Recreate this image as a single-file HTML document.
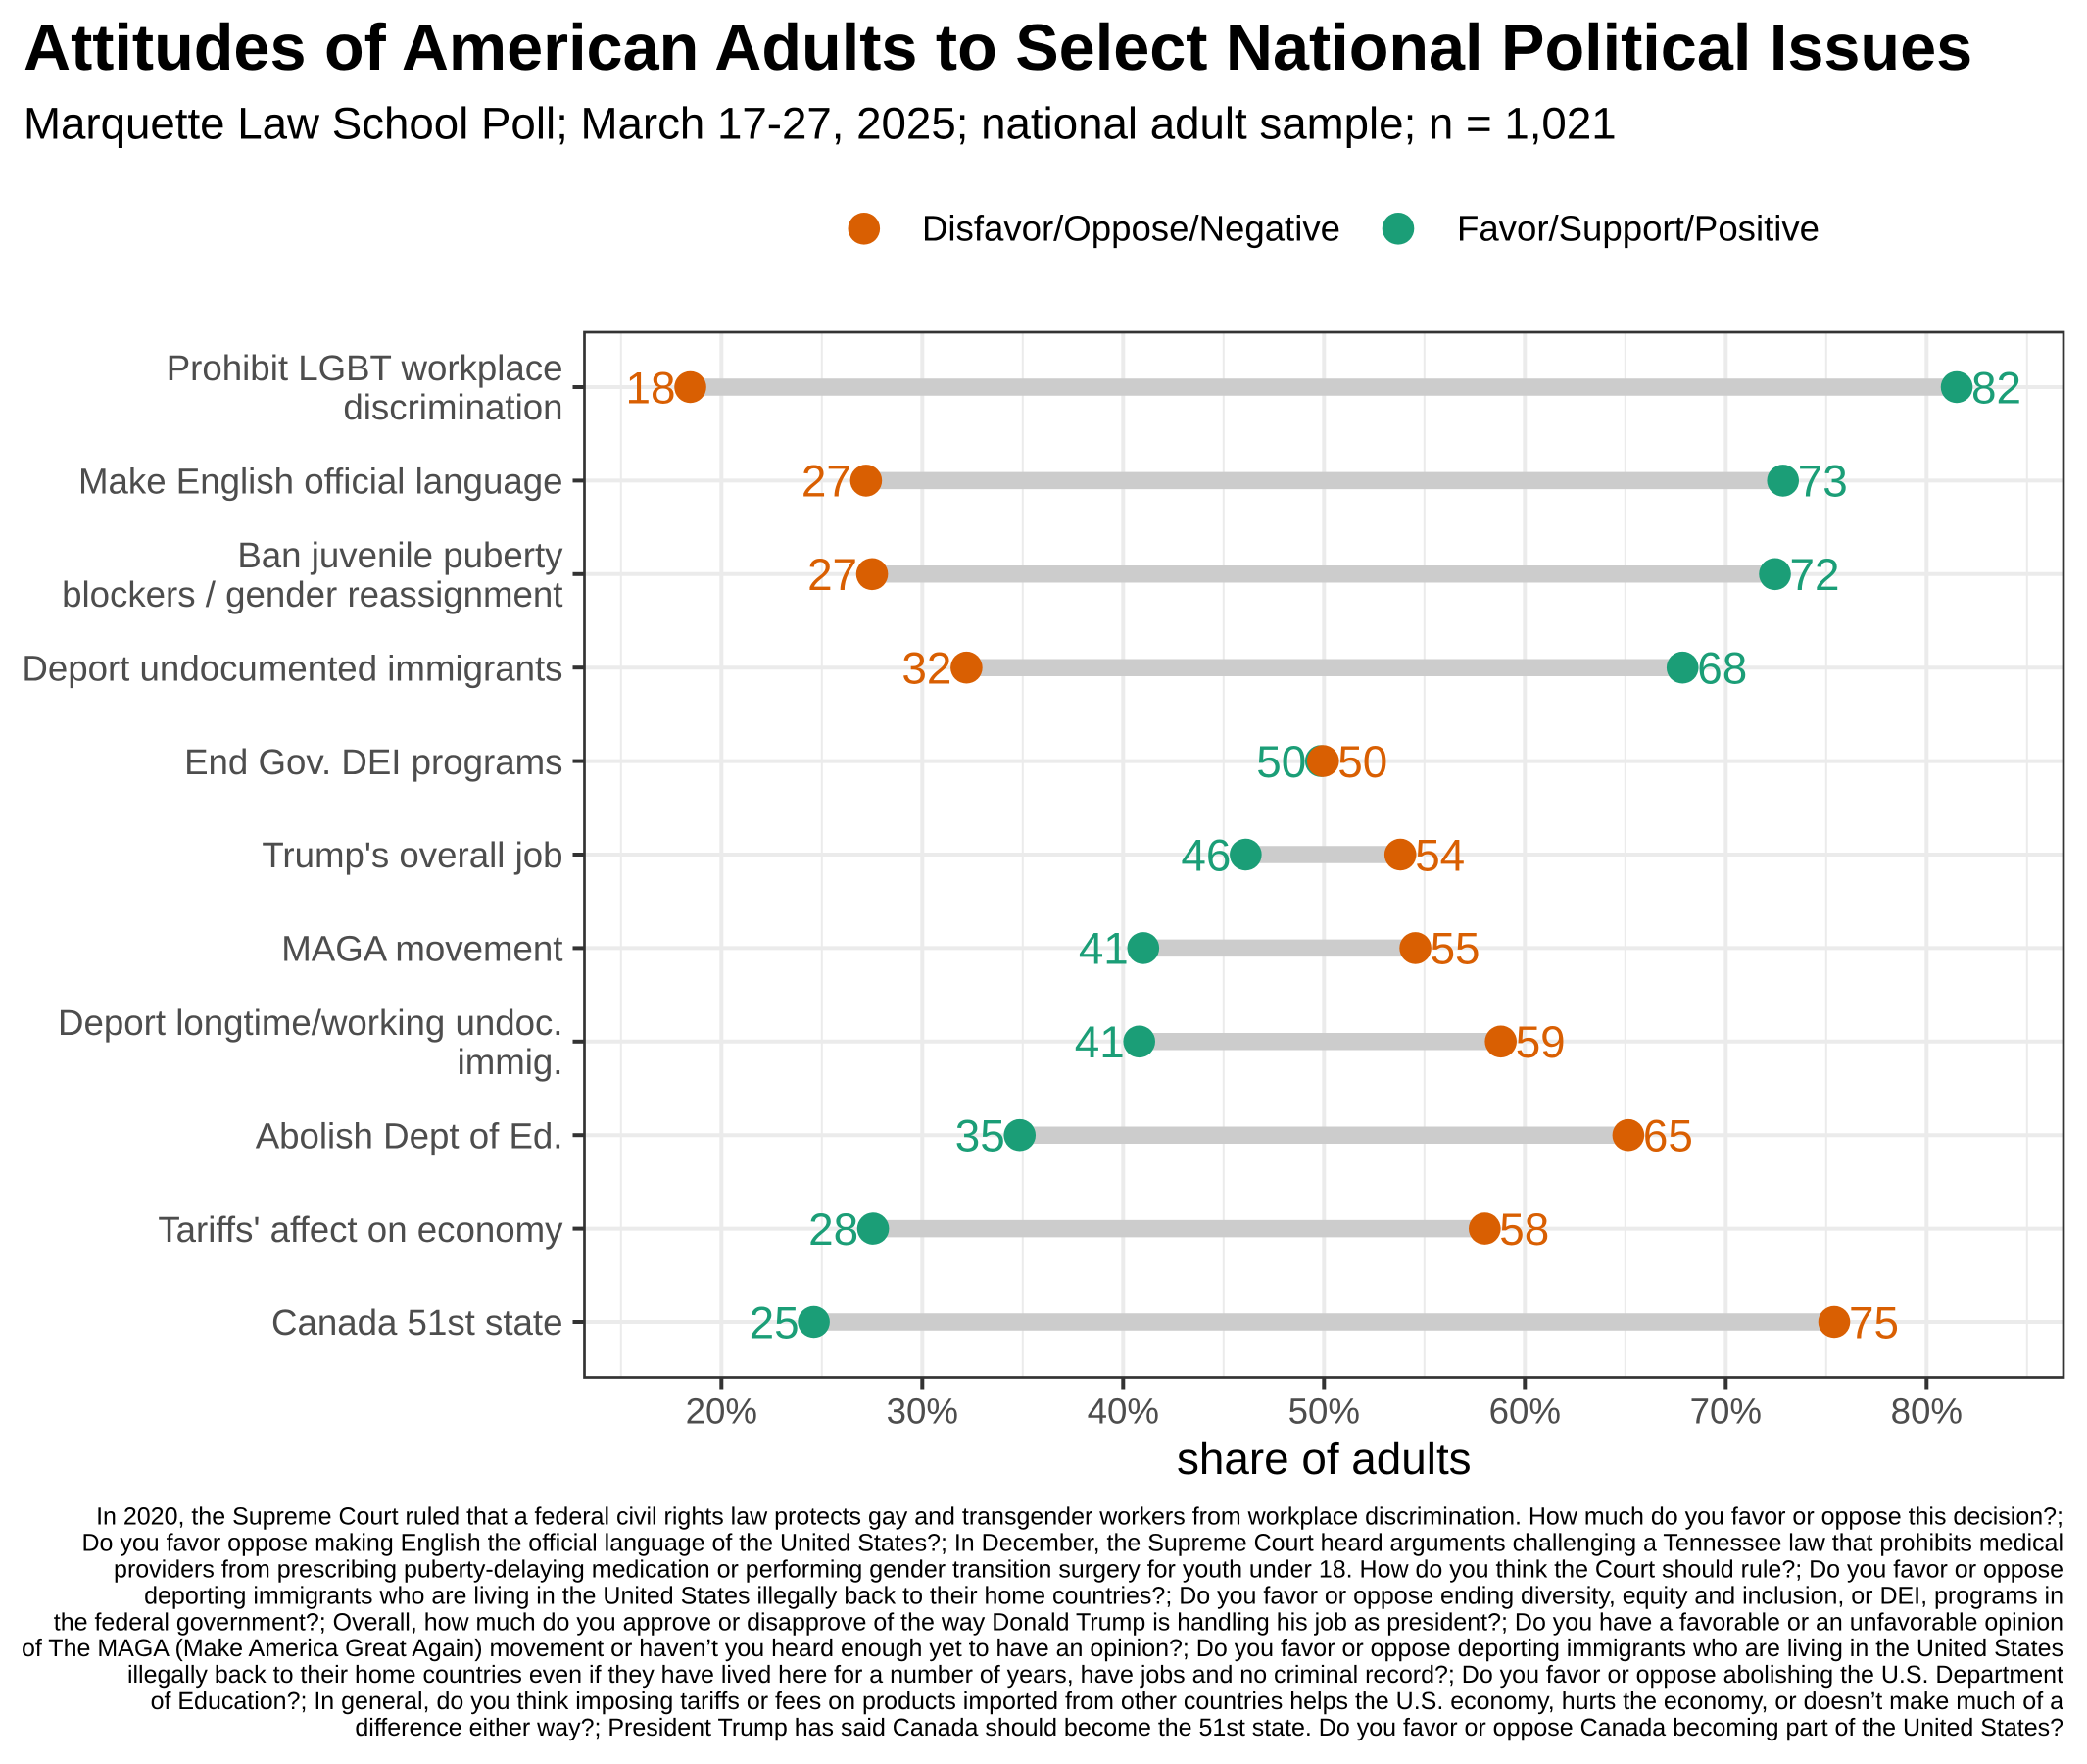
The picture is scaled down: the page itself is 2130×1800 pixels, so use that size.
<!DOCTYPE html>
<html lang="en">
<head>
<meta charset="utf-8">
<title>Attitudes of American Adults to Select National Political Issues</title>
<style>
html,body{margin:0;padding:0;background:#fff;}
svg{display:block;font-family:"Liberation Sans",Arial,sans-serif;text-rendering:geometricPrecision;}
</style>
</head>
<body>
<svg id="chart" xmlns="http://www.w3.org/2000/svg" width="2130" height="1800" viewBox="0 0 2130 1800">
  <rect x="0" y="0" width="2130" height="1800" fill="#ffffff"/>
  <text x="24" y="71" font-size="66.58" font-weight="700" fill="#000">Attitudes of American Adults to Select National Political Issues</text>
  <text x="24" y="141.7" font-size="45.67" fill="#000">Marquette Law School Poll; March 17-27, 2025; national adult sample; n = 1,021</text>

  <g>
    <circle cx="881.8" cy="233.3" r="16.3" fill="#D95F02"/>
    <text x="941" y="245.7" font-size="36.6" fill="#000">Disfavor/Oppose/Negative</text>
    <circle cx="1427" cy="233.3" r="16.3" fill="#1B9E77"/>
    <text x="1487" y="245.7" font-size="36.6" fill="#000">Favor/Support/Positive</text>
  </g>

  <g id="grid"></g>
  <g id="segments"></g>
  <g id="favorDots"></g>
  <g id="disfavorDots"></g>
  <g id="valueLabels"></g>
  <rect x="596.5" y="339" width="1509.5" height="1066.5" fill="none" stroke="#333333" stroke-width="2.7"/>
  <g id="xAxis"></g>
  <g id="yAxis"></g>
  <text x="1351.3" y="1504" text-anchor="middle" font-size="45.83" fill="#000">share of adults</text>

  <g font-size="25" fill="#000" text-anchor="end">
    <text x="2106" y="1555.7">In 2020, the Supreme Court ruled that a federal civil rights law protects gay and transgender workers from workplace discrimination. How much do you favor or oppose this decision?;</text>
    <text x="2106" y="1582.6">Do you favor oppose making English the official language of the United States?; In December, the Supreme Court heard arguments challenging a Tennessee law that prohibits medical</text>
    <text x="2106" y="1609.5">providers from prescribing puberty-delaying medication or performing gender transition surgery for youth under 18. How do you think the Court should rule?; Do you favor or oppose</text>
    <text x="2106" y="1636.4">deporting immigrants who are living in the United States illegally back to their home countries?; Do you favor or oppose ending diversity, equity and inclusion, or DEI, programs in</text>
    <text x="2106" y="1663.3">the federal government?; Overall, how much do you approve or disapprove of the way Donald Trump is handling his job as president?; Do you have a favorable or an unfavorable opinion</text>
    <text x="2106" y="1690.2">of The MAGA (Make America Great Again) movement or haven’t you heard enough yet to have an opinion?; Do you favor or oppose deporting immigrants who are living in the United States</text>
    <text x="2106" y="1717.1">illegally back to their home countries even if they have lived here for a number of years, have jobs and no criminal record?; Do you favor or oppose abolishing the U.S. Department</text>
    <text x="2106" y="1744">of Education?; In general, do you think imposing tariffs or fees on products imported from other countries helps the U.S. economy, hurts the economy, or doesn’t make much of a</text>
    <text x="2106" y="1770.9">difference either way?; President Trump has said Canada should become the 51st state. Do you favor or oppose Canada becoming part of the United States?</text>
  </g>
</svg>
<script>
var categories = [
  "Prohibit LGBT workplace|discrimination",
  "Make English official language",
  "Ban juvenile puberty|blockers / gender reassignment",
  "Deport undocumented immigrants",
  "End Gov. DEI programs",
  "Trump's overall job",
  "MAGA movement",
  "Deport longtime/working undoc.|immig.",
  "Abolish Dept of Ed.",
  "Tariffs' affect on economy",
  "Canada 51st state"
];
var disfavorValues = [18.45, 27.2, 27.5, 32.2, 49.95, 53.8, 54.55, 58.8, 65.15, 58.0, 75.4];
var favorValues = [81.5, 72.85, 72.45, 67.85, 49.85, 46.1, 41.0, 40.8, 34.85, 27.55, 24.6];
var disfavorLabels = ["18", "27", "27", "32", "50", "54", "55", "59", "65", "58", "75"];
var favorLabels = ["82", "73", "72", "68", "50", "46", "41", "41", "35", "28", "25"];
var majorTicks = [20, 30, 40, 50, 60, 70, 80];
var minorTicks = [15, 25, 35, 45, 55, 65, 75, 85];
var tickLabels = ["20%", "30%", "40%", "50%", "60%", "70%", "80%"];

var NS = "http://www.w3.org/2000/svg";
var panelLeft = 596.5, panelRight = 2106, panelTop = 339, panelBottom = 1405.5;
var DISFAVOR = "#D95F02", FAVOR = "#1B9E77";

function xScale(v) { return 1351.3 + (v - 50) * 20.5; }
function yScale(i) { return 395 + i * 95.4; }

function make(tag, attrs, parent, text) {
  var el = document.createElementNS(NS, tag);
  for (var k in attrs) el.setAttribute(k, attrs[k]);
  if (text !== undefined) el.textContent = text;
  parent.appendChild(el);
  return el;
}

var grid = document.getElementById("grid");
var segments = document.getElementById("segments");
var favorDots = document.getElementById("favorDots");
var disfavorDots = document.getElementById("disfavorDots");
var valueLabels = document.getElementById("valueLabels");
var xAxis = document.getElementById("xAxis");
var yAxis = document.getElementById("yAxis");

minorTicks.forEach(function (t) {
  var el = make("line", {x1: xScale(t), x2: xScale(t), y1: panelTop, y2: panelBottom, stroke: "#EBEBEB", "stroke-width": 2}, grid);
  
  
});
majorTicks.forEach(function (t, i) {
  var x = xScale(t);
  var g = make("line", {x1: x, x2: x, y1: panelTop, y2: panelBottom, stroke: "#EBEBEB", "stroke-width": 4}, grid);
  
  
  var tick = make("line", {x1: x, x2: x, y1: panelBottom, y2: panelBottom + 12, stroke: "#333333", "stroke-width": 4}, xAxis);
  
  
  var label = make("text", {x: x, y: 1452.7, "text-anchor": "middle", "font-size": 36.67, fill: "#4D4D4D"}, xAxis, tickLabels[i]);
  
  
});

categories.forEach(function (cat, i) {
  var y = yScale(i);
  var g = make("line", {x1: panelLeft, x2: panelRight, y1: y, y2: y, stroke: "#EBEBEB", "stroke-width": 4}, grid);
  
  

  var tick = make("line", {x1: panelLeft - 12, x2: panelLeft, y1: y, y2: y, stroke: "#333333", "stroke-width": 4}, yAxis);
  
  

  var parts = cat.split("|");
  parts.forEach(function (line, j) {
    var base = parts.length > 1 ? y - 6.8 + j * 40 : y + 13.2;
    var lab = make("text", {x: 574.5, y: base, "text-anchor": "end", "font-size": 36.67, fill: "#4D4D4D"}, yAxis, line);
    
    
  });

  var xd = xScale(disfavorValues[i]), xf = xScale(favorValues[i]);

  var seg = make("line", {x1: xd, x2: xf, y1: y, y2: y, stroke: "#CCCCCC", "stroke-width": 17.5}, segments);
  
  

  var cf = make("circle", {cx: xf, cy: y, r: 16.3, fill: FAVOR}, favorDots);
  
  
  var cd = make("circle", {cx: xd, cy: y, r: 16.3, fill: DISFAVOR}, disfavorDots);
  
  

  var disfavorLeft = disfavorValues[i] < favorValues[i];
  var ld = make("text", {x: disfavorLeft ? xd - 15 : xd + 15, y: y + 16.3, "text-anchor": disfavorLeft ? "end" : "start", "font-size": 45.83, fill: DISFAVOR}, valueLabels, disfavorLabels[i]);
  
  
  var lf = make("text", {x: disfavorLeft ? xf + 15 : xf - 15, y: y + 16.3, "text-anchor": disfavorLeft ? "start" : "end", "font-size": 45.83, fill: FAVOR}, valueLabels, favorLabels[i]);
  
  
});
</script>
</body>
</html>
